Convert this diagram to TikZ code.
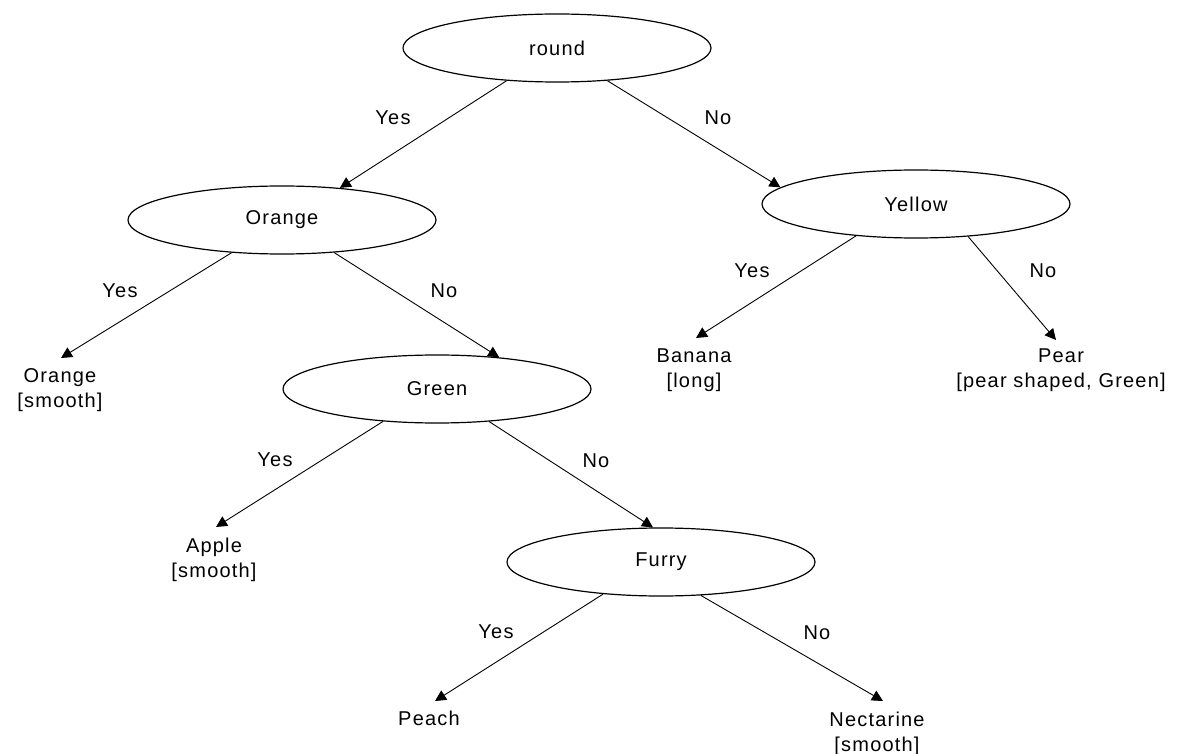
\documentclass[tikz,border=0pt]{standalone}
\usepackage{fontspec}
\setmainfont{Liberation Sans}[LetterSpace=6]
\usetikzlibrary{shapes.geometric,arrows.meta,calc}
\begin{document}
\begin{tikzpicture}[x=1pt,y=-1pt,
  txt/.style={inner sep=0pt,text=black,font=\fontsize{20}{25}\selectfont},
  test/.style={txt,ellipse,draw=black,line width=1.2pt,minimum width=308pt,minimum height=68pt},
  leaf/.style={txt,anchor=north,align=center},
  lbl/.style={txt},
  branch/.style={draw=black,line width=0.9pt,-{Triangle[width=11pt,length=11pt]}}]
\useasboundingbox[fill=white] (0,0) rectangle (1179,754);

% decision nodes
\node[test] (round)  at (557,48)  {round};
\node[test] (orange) at (282,220) {Orange};
\node[test] (yellow) at (916,204) {Yellow};
\node[test] (green)  at (437,389) {Green};
\node[test] (furry)  at (661,562) {Furry};

% leaves
\node[leaf] (oleaf)  at (60,368)   {Orange\\{[smooth]}};
\node[leaf] (banana) at (694,349)  {Banana\\{[long]}};
\node[leaf] (pear)   at (1061,349) {Pear\\{[pear shaped, Green]}};
\node[leaf] (apple)  at (214,538)  {Apple\\{[smooth]}};
\node[leaf] (peach)  at (429,711)  {Peach};
\node[leaf] (nect)   at (877,712)  {Nectarine\\{[smooth]}};

% branches
\draw[branch] (round.213)  -- (orange.29);
\draw[branch] (round.327)  -- (yellow.173);
\draw[branch] (orange.213) -- ($(oleaf.north)+(1,-10)$);
\draw[branch] (orange.328) -- (green.27);
\draw[branch] (yellow.208) -- ($(banana.north)+(2,-11)$);
\draw[branch] (yellow.328) -- ($(pear.north)+(-5,-9)$);
\draw[branch] (green.211)  -- ($(apple.north)+(2,-11)$);
\draw[branch] (green.328)  -- (furry.103);
\draw[branch] (furry.209)  -- ($(peach.north)+(6,-10)$);
\draw[branch] (furry.320)  -- ($(nect.north)+(6,-11)$);

% branch labels
\node[lbl] (l1)  at (393,118)  {Yes};
\node[lbl] (l2)  at (718,118)  {No};
\node[lbl] (l3)  at (120,291)  {Yes};
\node[lbl] (l4)  at (444,291)  {No};
\node[lbl] (l5)  at (752,271)  {Yes};
\node[lbl] (l6)  at (1043,271) {No};
\node[lbl] (l7)  at (275,460)  {Yes};
\node[lbl] (l8)  at (596,461)  {No};
\node[lbl] (l9)  at (496,632)  {Yes};
\node[lbl] (l10) at (817,633)  {No};
\end{tikzpicture}
\end{document}
